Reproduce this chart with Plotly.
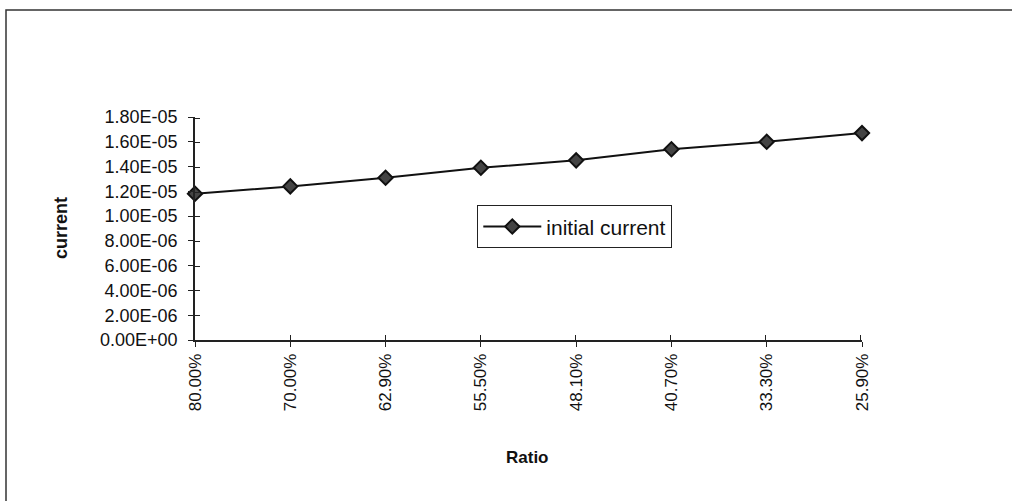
import plotly.graph_objects as go

ratios = ["80.00%", "70.00%", "62.90%", "55.50%", "48.10%", "40.70%", "33.30%", "25.90%"]
initial_current = [1.18e-05, 1.24e-05, 1.31e-05, 1.39e-05, 1.45e-05, 1.54e-05, 1.60e-05, 1.67e-05]
y_ticks = [0, 2e-06, 4e-06, 6e-06, 8e-06, 1e-05, 1.2e-05, 1.4e-05, 1.6e-05, 1.8e-05]
y_tick_text = [f"{v:.2E}" for v in y_ticks]

FONT = "Arial, 'Liberation Sans', sans-serif"
W, H = 1012, 501
L, R, T, B = 195, 150, 117, 161
pw, ph = W - L - R, H - T - B
Y_MAX = 1.8e-05
X_MAX = len(ratios) - 1

def px_x(p):
    return (p - L) / pw

def px_y(p):
    return (H - B - p) / ph

# overlay axes carry the inward half of the crossing tick marks; their ranges are
# stretched by ~1.3 px so that the end ticks are not dropped at the plot boundary
y2_max = Y_MAX * (1 + 1.3 / ph)
x2_max = X_MAX * (1 + 1.3 / pw)

fig = go.Figure()
fig.add_trace(go.Scatter(x=ratios, y=initial_current, xaxis="x2", yaxis="y2", mode="markers",
                         marker=dict(size=1, color="rgba(0,0,0,0)"), hoverinfo="skip", showlegend=False))
fig.add_trace(go.Scatter(
    x=ratios, y=initial_current, mode="lines+markers", name="initial current", cliponaxis=False,
    line=dict(color="#111111", width=2),
    marker=dict(symbol="diamond", size=11, color="#444444", line=dict(color="#111111", width=2)),
))

TICK = dict(tickcolor="#222222", tickwidth=1.3, ticklen=5)
axis_common = dict(showgrid=False, zeroline=False, showline=True, linecolor="#222222", linewidth=1.5, **TICK)
overlay_common = dict(ticks="inside", showticklabels=False, showgrid=False, zeroline=False,
                      showline=False, **TICK)

fig.update_layout(
    width=W, height=H, margin=dict(l=L, r=R, t=T, b=B),
    paper_bgcolor="white", plot_bgcolor="white",
    font=dict(family=FONT, size=17, color="#111111"),
    showlegend=True,
    legend=dict(x=px_x(477), y=px_y(205), xanchor="left", yanchor="top",
                bordercolor="#222222", borderwidth=1.3, bgcolor="white",
                font=dict(size=21, family=FONT), itemwidth=58),
    xaxis=dict(type="category", range=[0, X_MAX], ticks="outside", tickangle=-90,
               tickfont=dict(size=17), **axis_common),
    yaxis=dict(range=[0, Y_MAX], tickvals=y_ticks, ticktext=y_tick_text, ticks="outside",
               tickfont=dict(size=18), ticklabelstandoff=7, **axis_common),
    xaxis2=dict(type="category", range=[0, x2_max], overlaying="x", anchor="y2", side="bottom",
                **overlay_common),
    yaxis2=dict(range=[0, y2_max], tickvals=y_ticks, overlaying="y", anchor="x2", side="left",
                **overlay_common),
)

fig.add_shape(type="rect", xref="paper", yref="paper",
              x0=px_x(6), x1=px_x(W + 20), y0=px_y(H + 20), y1=px_y(10),
              line=dict(color="#333333", width=1.5), fillcolor="rgba(0,0,0,0)", layer="below")

fig.add_annotation(text="<b>current</b>", xref="paper", yref="paper", x=px_x(61), y=px_y(228),
                   textangle=-90, showarrow=False, font=dict(size=18, family=FONT),
                   xanchor="center", yanchor="middle")
fig.add_annotation(text="<b>Ratio</b>", xref="paper", yref="paper", x=px_x(527), y=px_y(457),
                   showarrow=False, font=dict(size=17, family=FONT),
                   xanchor="center", yanchor="middle")

fig.write_html("out.html")
